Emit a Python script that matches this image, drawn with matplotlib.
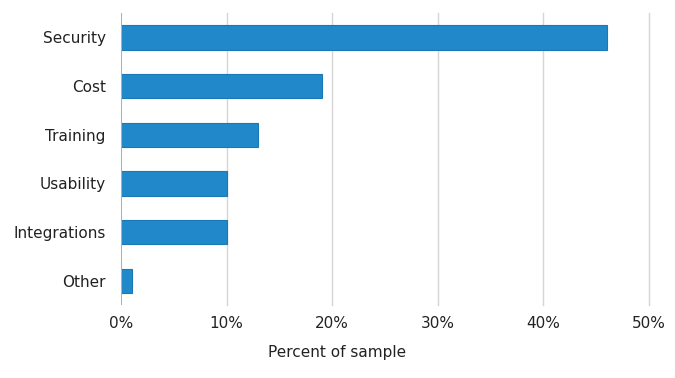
import matplotlib.pyplot as plt
from matplotlib.ticker import PercentFormatter

plt.rcParams['font.family'] = ['DejaVu Sans']

categories = ['Security', 'Cost', 'Training', 'Usability', 'Integrations', 'Other']
values = [46, 19, 13, 10, 10, 1]

fig = plt.figure(figsize=(6.75, 3.78), dpi=100)
ax = fig.add_axes([121 / 675, 1 - 305 / 378, (649 - 121) / 675, (305 - 13) / 378])

ypos = list(range(len(categories)))
ax.barh(ypos, values, height=0.5, color='#2188C9', edgecolor='#1A78B8', linewidth=0.8, zorder=3)

ax.set_ylim(len(categories) - 0.5, -0.5)
ax.set_yticks(ypos)
ax.set_yticklabels(categories, fontsize=11, color='#222222')

ax.set_xlim(0, 50)
ax.set_xticks([0, 10, 20, 30, 40, 50])
ax.xaxis.set_major_formatter(PercentFormatter(decimals=0))
ax.tick_params(axis='x', labelsize=11, colors='#222222', length=0, pad=8)
ax.tick_params(axis='y', length=0, pad=11)

for x in [10, 20, 30, 40, 50]:
    ax.axvline(x, color='#d6d6d6', linewidth=1, zorder=0, clip_on=False)
ax.axvline(0, color='#b0b0b0', linewidth=1.5, zorder=4)
for s in ax.spines.values():
    s.set_visible(False)

fig.text(337 / 675, 1 - 352 / 378, 'Percent of sample', ha='center', va='center',
         fontsize=11, color='#222222')

fig.savefig('out.png', dpi=100)
